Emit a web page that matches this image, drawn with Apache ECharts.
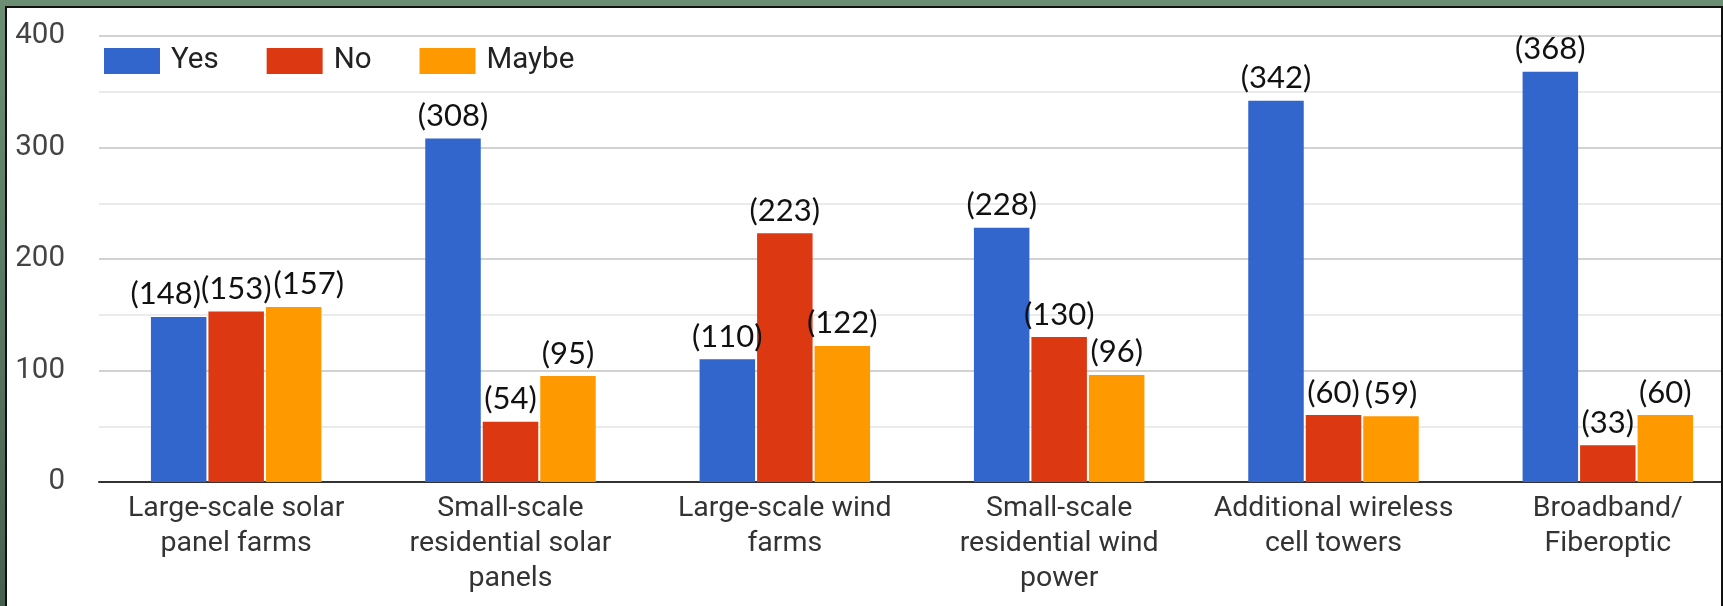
<!DOCTYPE html>
<html>
<head>
<meta charset="utf-8">
<script src="https://cdn.jsdelivr.net/npm/echarts@6/dist/echarts.min.js"></script>
<style>
html,body{margin:0;padding:0;background:#fff;}
#chart{width:1723px;height:606px;}
</style>
</head>
<body>
<div id="chart"></div>
<script>
const categories = [
  "Large-scale solar\npanel farms",
  "Small-scale\nresidential solar\npanels",
  "Large-scale wind\nfarms",
  "Small-scale\nresidential wind\npower",
  "Additional wireless\ncell towers",
  "Broadband/\nFiberoptic"
];
const seriesNames = ["Yes", "No", "Maybe"];
const yesValues = [148, 308, 110, 228, 342, 368];
const noValues = [153, 54, 223, 130, 60, 33];
const maybeValues = [157, 95, 122, 96, 59, 60];
const yTicks = [0, 100, 200, 300, 400];
const colors = ["#3366cc", "#dc3912", "#ff9900"];

const chart = echarts.init(document.getElementById('chart'), null, {renderer: 'canvas'});

// crowded first group: nudge the outer labels apart like the original
const labelNudge = {0: -13, 2: 15};

function makeSeries(idx, data) {
  return {
    name: seriesNames[idx],
    type: 'bar',
    data: data,
    barWidth: 55.5,
    barGap: '3.6%',
    itemStyle: {color: colors[idx]},
    label: {
      show: true,
      position: 'top',
      distance: 7,
      formatter: p => '(' + p.value + ')',
      fontFamily: 'Lato',
      fontSize: 31,
      color: '#111'
    },
    labelLayout: function (params) {
      if (params.dataIndex === 0 && labelNudge[idx] !== undefined) {
        return {dx: labelNudge[idx]};
      }
      return {};
    }
  };
}

const option = {
  animation: false,
  backgroundColor: '#ffffff',
  color: colors,
  legend: {
    left: 99,
    top: 41,
    itemWidth: 56,
    itemHeight: 26,
    itemGap: 48,
    icon: 'rect',
    textStyle: {fontFamily: 'Roboto', fontSize: 29.5, color: '#222', padding: [0, 0, 0, 6]},
    data: seriesNames
  },
  grid: {left: 99, width: 1646, top: 36, bottom: 124, containLabel: false, outerBoundsMode: 'none'},
  xAxis: {
    type: 'category',
    data: categories,
    axisLine: {show: true, lineStyle: {color: '#333', width: 2}},
    axisTick: {show: false},
    axisLabel: {
      interval: 0,
      margin: 9,
      fontFamily: 'Roboto',
      fontSize: 28.5,
      lineHeight: 35,
      color: '#333'
    },
    splitLine: {show: false}
  },
  yAxis: {
    type: 'value',
    min: yTicks[0],
    max: yTicks[yTicks.length - 1],
    interval: 100,
    axisLine: {show: false},
    axisTick: {show: false},
    axisLabel: {
      margin: 34,
      fontFamily: 'Roboto',
      fontSize: 29.5,
      color: '#444'
    },
    splitLine: {show: true, lineStyle: {color: '#d2d2d2', width: 2}},
    minorTick: {show: false, splitNumber: 2},
    minorSplitLine: {show: true, lineStyle: {color: '#ebebeb', width: 2}}
  },
  series: [
    makeSeries(0, yesValues),
    makeSeries(1, noValues),
    makeSeries(2, maybeValues)
  ],
  graphic: [
    {type: 'rect', z: 100, shape: {x: 0, y: 0, width: 1723, height: 7}, style: {fill: '#6c8f74'}},
    {type: 'rect', z: 100, shape: {x: 0, y: 0, width: 5, height: 606},
      style: {fill: new echarts.graphic.LinearGradient(0, 0, 0, 1, [{offset: 0, color: '#6c8f74'}, {offset: 1, color: '#46604f'}])}},
    {type: 'rect', z: 101, shape: {x: 5, y: 6, width: 1718, height: 2}, style: {fill: '#111'}},
    {type: 'rect', z: 101, shape: {x: 5, y: 6, width: 2, height: 600}, style: {fill: '#111'}},
    {type: 'rect', z: 101, shape: {x: 1721, y: 6, width: 2, height: 600}, style: {fill: '#111'}}
  ]
};
chart.setOption(option);
</script>
</body>
</html>
